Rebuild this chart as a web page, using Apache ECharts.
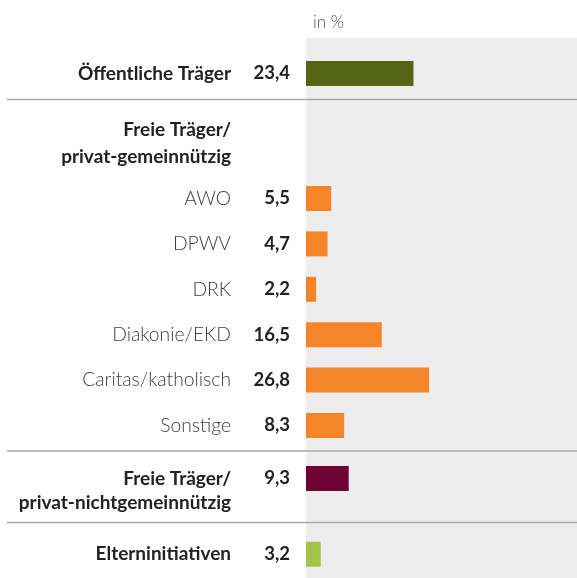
<!DOCTYPE html>
<html>
<head>
<meta charset="utf-8">
<script src="https://cdn.jsdelivr.net/npm/echarts@6/dist/echarts.min.js"></script>
<style>
  html, body { margin: 0; padding: 0; background: #fff; }
  #chart { width: 577px; height: 578px; }
</style>
</head>
<body>
<div id="chart"></div>
<script>
// Daten
var oeffCats = ['Öffentliche Träger'];
var oeffVals = [23.4];

var gemeinCats = ['AWO', 'DPWV', 'DRK', 'Diakonie/EKD', 'Caritas/katholisch', 'Sonstige'];
var gemeinVals = [5.5, 4.7, 2.2, 16.5, 26.8, 8.3];

var privCats = ['Freie Träger/\nprivat-nichtgemeinnützig'];
var privVals = [9.3];

var elternCats = ['Elterninitiativen'];
var elternVals = [3.2];

var gemeinHeader = 'Freie Träger/\nprivat-gemeinnützig';
var unitLabel = 'in %';

var FONT = 'Lato, "Noto Sans", sans-serif';
var AXIS_MAX = 59;

function fmt(v) {
    return v.toFixed(1).replace('.', ',');
}

// Beschriftung links: Name + Wert in zwei Spalten
function makeFormatter(vals, nameStyle) {
    return function (name, idx) {
        var lines = name.split('\n');
        var out = [];
        lines.forEach(function (line, i) {
            var v = i === 0 ? fmt(vals[idx]) : ' ';
            out.push('{' + nameStyle + '|' + line + '}{v|' + v + '}');
        });
        // bei zweizeiligen Namen: erste Zeile auf Höhe des Balkens
        if (lines.length > 1) {
            out.unshift('{v| }');
        }
        return out.join('\n');
    };
}

var rich = {
    b: { fontFamily: FONT, fontSize: 19, fontWeight: 'bold', color: '#222', lineHeight: 24 },
    l: { fontFamily: FONT, fontSize: 19.3, fontWeight: 300, color: '#3d3d3d', lineHeight: 24 },
    v: { fontFamily: FONT, fontSize: 18.5, fontWeight: 'bold', color: '#222', width: 59, align: 'right', lineHeight: 24 }
};

var blocks = [
    { cats: oeffCats, vals: oeffVals, color: '#556415', style: 'b', top: 48.5, height: 50 },
    { cats: gemeinCats, vals: gemeinVals, color: '#f6852a', style: 'l', top: 175.8, height: 272.4 },
    { cats: privCats, vals: privVals, color: '#6f0033', style: 'b', top: 453.5, height: 50 },
    { cats: elternCats, vals: elternVals, color: '#9fc446', style: 'b', top: 530.5, height: 50 }
];

var grids = [], xAxes = [], yAxes = [], series = [];
blocks.forEach(function (b, i) {
    grids.push({ left: 306, right: 0, top: b.top, height: b.height });
    xAxes.push({ gridIndex: i, type: 'value', min: 0, max: AXIS_MAX, show: false });
    yAxes.push({
        gridIndex: i,
        type: 'category',
        inverse: true,
        data: b.cats,
        axisLine: { show: false },
        axisTick: { show: false },
        splitLine: { show: false },
        axisLabel: {
            margin: 16,
            lineHeight: 24,
            formatter: makeFormatter(b.vals, b.style),
            rich: rich
        }
    });
    series.push({
        type: 'bar',
        xAxisIndex: i,
        yAxisIndex: i,
        data: b.vals,
        barWidth: 25,
        itemStyle: { color: b.color },
        silent: true
    });
});

var chart = echarts.init(document.getElementById('chart'));

var option = {
    backgroundColor: '#fff',
    animation: false,
    title: {
        text: unitLabel,
        left: 308,
        top: 9,
        textStyle: { fontFamily: FONT, fontSize: 17, fontWeight: 300, color: '#555' }
    },
    grid: grids,
    xAxis: xAxes,
    yAxis: yAxes,
    series: series,
    graphic: [
        // grauer Hintergrund hinter den Balken
        { type: 'rect', z: -10, shape: { x: 306, y: 38, width: 271, height: 540 }, style: { fill: '#ededed' } },
        // Trennlinien
        { type: 'line', z: 5, shape: { x1: 7, y1: 99.5, x2: 577, y2: 99.5 }, style: { stroke: '#a5abb0', lineWidth: 1.5 } },
        { type: 'line', z: 5, shape: { x1: 7, y1: 451, x2: 577, y2: 451 }, style: { stroke: '#a5abb0', lineWidth: 1.5 } },
        { type: 'line', z: 5, shape: { x1: 7, y1: 522.5, x2: 577, y2: 522.5 }, style: { stroke: '#a5abb0', lineWidth: 1.5 } },
        // Überschrift der Gruppe
        {
            type: 'text', z: 5,
            style: {
                x: 231, y: 143.5,
                text: gemeinHeader,
                align: 'right', verticalAlign: 'middle',
                fontFamily: FONT, fontSize: 19, fontWeight: 'bold',
                lineHeight: 27, fill: '#222'
            }
        }
    ]
};

chart.setOption(option);
</script>
</body>
</html>
